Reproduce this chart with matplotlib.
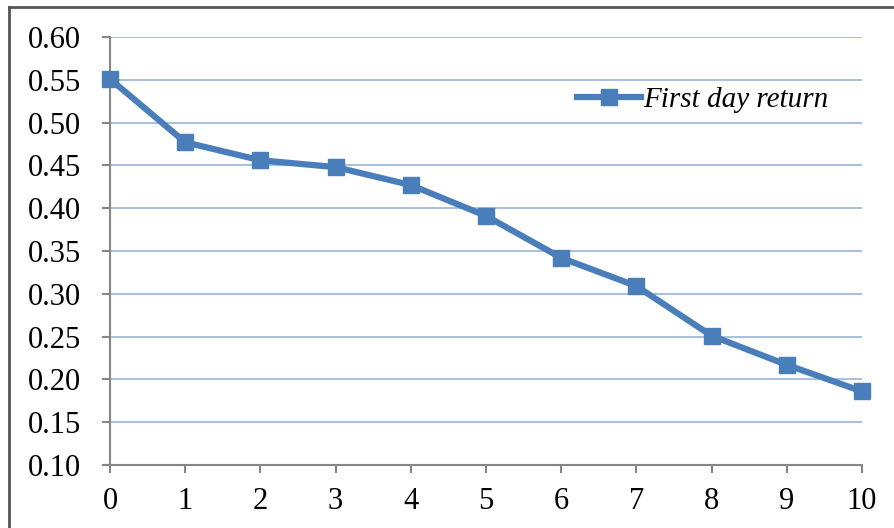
import matplotlib
matplotlib.use("Agg")
import matplotlib.pyplot as plt
from matplotlib.lines import Line2D

# data
days = [0, 1, 2, 3, 4, 5, 6, 7, 8, 9, 10]
first_day_return = [0.551, 0.477, 0.456, 0.448, 0.427, 0.391, 0.342, 0.309, 0.251, 0.217, 0.186]
yticks = [0.10, 0.15, 0.20, 0.25, 0.30, 0.35, 0.40, 0.45, 0.50, 0.55, 0.60]
series_label = "First day return"

line_col = "#4a7ebb"
grid_col = "#a7c0de"
axis_col = "#868686"

plt.rcParams["font.family"] = ["Liberation Serif", "DejaVu Serif"]

fig = plt.figure(figsize=(8.94, 5.28), dpi=100)
ax = fig.add_axes([110 / 894, 1 - 465 / 528, (862 - 110) / 894, (465 - 37) / 528])

ax.plot(days, first_day_return, color=line_col, linewidth=4.5, marker="s",
        markersize=11.5, markerfacecolor=line_col, markeredgecolor=line_col,
        label=series_label, clip_on=False, zorder=3)

ax.set_xlim(0, 10)
ax.set_ylim(0.10, 0.60)
ax.set_xticks(days)
ax.set_yticks(yticks)
ax.set_yticklabels(["%.2f" % v for v in yticks])
ax.yaxis.grid(True, color=grid_col, linewidth=1.4)
ax.set_axisbelow(True)

for s in ["top", "right"]:
    ax.spines[s].set_visible(False)
for s in ["left", "bottom"]:
    ax.spines[s].set_color(axis_col)
    ax.spines[s].set_linewidth(1.5)
ax.tick_params(axis="both", direction="out", length=6, width=1.5, color=axis_col,
               labelsize=22, labelcolor="black")
ax.tick_params(axis="x", pad=10)
ax.tick_params(axis="y", pad=15)

leg = ax.legend(loc="center right", bbox_to_anchor=(0.955, 0.853), frameon=False,
                prop={"style": "italic", "size": 21}, handlelength=2.2,
                handletextpad=0.05, borderaxespad=0, borderpad=0)

# outer chart border (only top and left visible in the crop)
fig.add_artist(Line2D([9 / 894, 1], [1 - 7 / 528, 1 - 7 / 528], color="#555555",
                      linewidth=2, transform=fig.transFigure))
fig.add_artist(Line2D([9 / 894, 9 / 894], [0, 1 - 7 / 528], color="#555555",
                      linewidth=2, transform=fig.transFigure))

fig.savefig("out.png", dpi=100)
